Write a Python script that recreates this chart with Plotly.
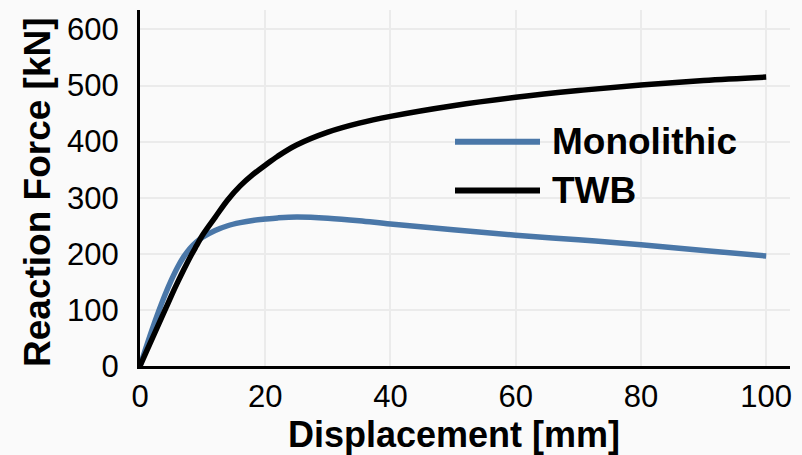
import plotly.graph_objects as go

# ---- data ----
disp = [0, 1, 2, 3, 4, 5, 6, 7, 8, 9, 10, 12, 14, 16, 18, 20, 22, 25, 30, 35,
        40, 50, 60, 70, 80, 90, 100]
monolithic = [0, 34, 67, 98, 127, 153, 176, 195, 210, 221, 229.5, 241.5, 250,
              255.5, 259.5, 262, 264, 265.5, 263.5, 259, 253, 243, 233, 225,
              216, 206, 196]
twb = [0, 25, 50, 75, 100, 125, 149, 172, 194, 214, 233.5, 265, 296, 321, 341,
       358, 374, 394, 417, 433, 445, 464, 479, 491, 501, 509, 515]

series_names = ["Monolithic", "TWB"]
series_colors = ["#4a77a8", "#000000"]
x_ticks = [0, 20, 40, 60, 80, 100]
y_ticks = [0, 100, 200, 300, 400, 500, 600]
x_title = "Displacement [mm]"
y_title = "Reaction Force [kN]"

FONT = "Liberation Sans, Arial, sans-serif"

# plot area in pixels
L, R, T, B = 140, 12, 10, 89
W, H = 802, 455
PW, PH = W - L - R, H - T - B

def px_x(p):
    return (p - L) / PW

def px_y(p):
    return (H - B - p) / PH

fig = go.Figure()
for name, ys, col in zip(series_names, [monolithic, twb], series_colors):
    fig.add_trace(go.Scatter(x=disp, y=ys, name=name, mode="lines",
                             line=dict(color=col, width=5.5, shape="spline",
                                       smoothing=1.0),
                             showlegend=False))

fig.update_layout(
    width=W, height=H,
    margin=dict(l=L, r=R, t=T, b=B),
    paper_bgcolor="#fafafa", plot_bgcolor="#fafafa",
    font=dict(family=FONT, color="#000000"),
    xaxis=dict(range=[0, 103.8], tickvals=x_ticks, showgrid=True,
               gridcolor="#ebebeb", gridwidth=2, zeroline=False,
               showline=True, linecolor="#000000", linewidth=3,
               ticks="outside", ticklen=1, tickcolor="rgba(0,0,0,0)",
               tickfont=dict(size=31, family=FONT, color="#000")),
    yaxis=dict(range=[0, 634.6], tickvals=y_ticks, showgrid=True,
               gridcolor="#ebebeb", gridwidth=2, zeroline=False,
               showline=True, linecolor="#000000", linewidth=3,
               ticks="outside", ticklen=12, tickcolor="rgba(0,0,0,0)",
               tickfont=dict(size=31, family=FONT, color="#000")),
)

# axis titles
fig.add_annotation(text="<b>%s</b>" % x_title, xref="paper", yref="paper",
                   x=px_x(454), y=px_y(434), xanchor="center", yanchor="middle",
                   showarrow=False, font=dict(size=36, family=FONT, color="#000"))
fig.add_annotation(text="<b>%s</b>" % y_title, xref="paper", yref="paper",
                   x=px_x(37), y=px_y(192), xanchor="center", yanchor="middle",
                   textangle=-90, showarrow=False,
                   font=dict(size=37, family=FONT, color="#000"))

# legend (drawn manually to match the long line samples)
leg_y = [141.7, 190.5]
for name, col, py in zip(series_names, series_colors, leg_y):
    fig.add_shape(type="line", xref="paper", yref="paper",
                  x0=px_x(455), x1=px_x(540), y0=px_y(py), y1=px_y(py),
                  line=dict(color=col, width=6))
    fig.add_annotation(text="<b>%s</b>" % name, xref="paper", yref="paper",
                       x=px_x(550), y=px_y(py), xanchor="left", yanchor="middle",
                       showarrow=False,
                       font=dict(size=37, family=FONT, color="#000"))

fig.write_html("out.html")
